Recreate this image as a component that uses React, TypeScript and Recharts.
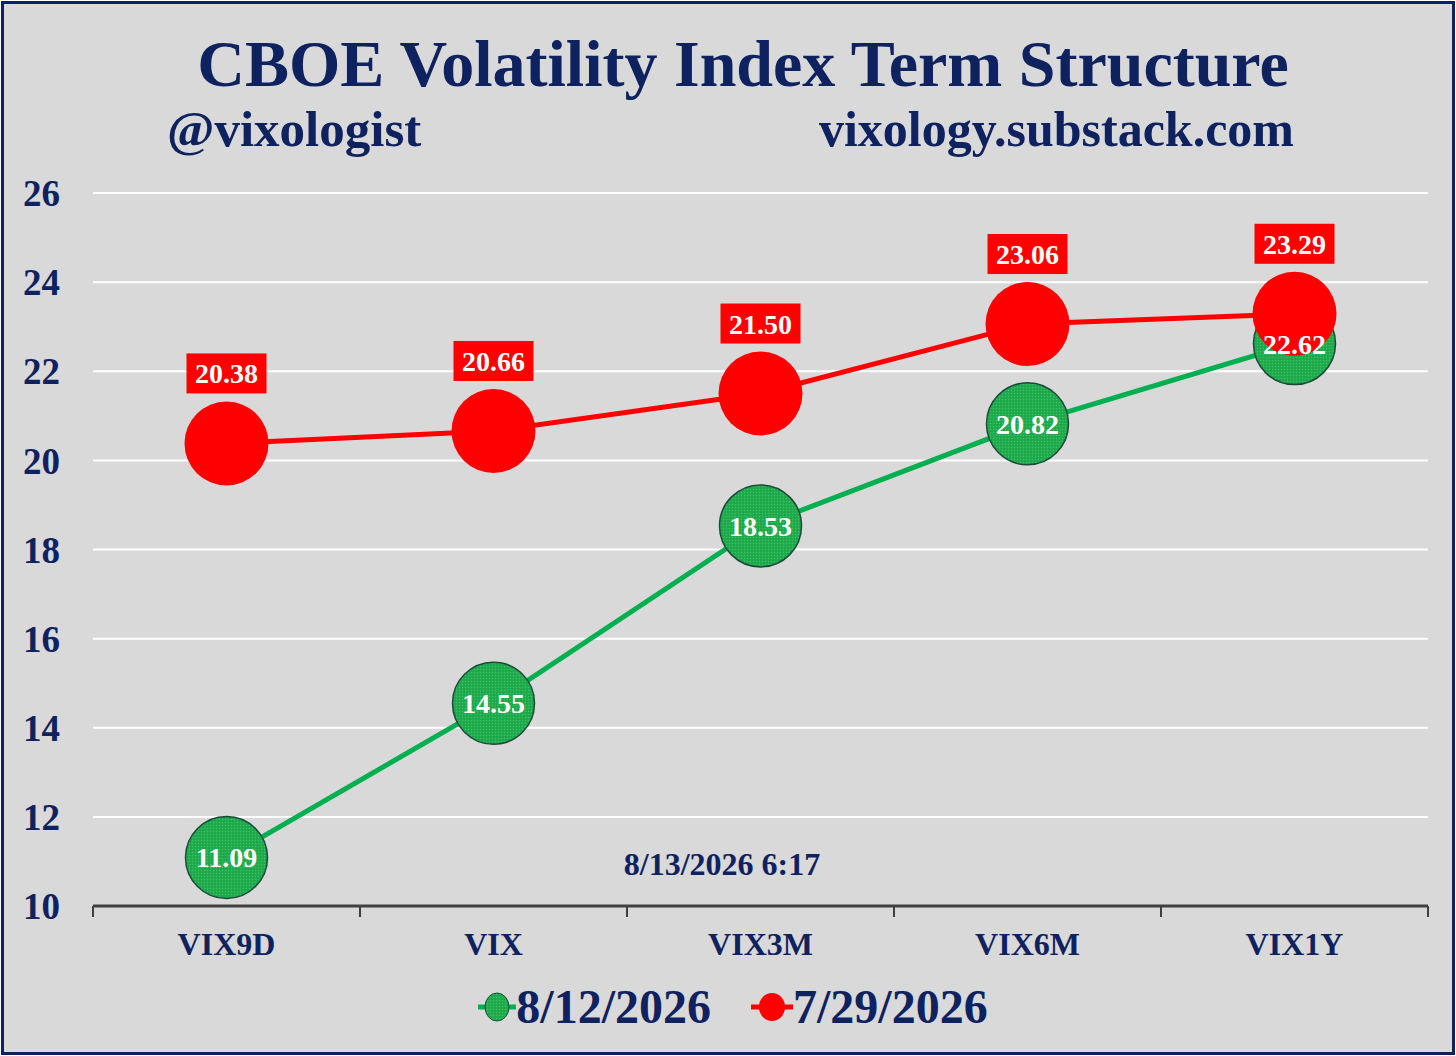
import { LineChart, Line, XAxis, YAxis, CartesianGrid, LabelList } from "recharts";

const categories = ["VIX9D", "VIX", "VIX3M", "VIX6M", "VIX1Y"];
const latest = [11.09, 14.55, 18.53, 20.82, 22.62];
const prior = [20.38, 20.66, 21.5, 23.06, 23.29];
const yTicks = [10, 12, 14, 16, 18, 20, 22, 24, 26];
const latestLabel = "8/12/2026";
const priorLabel = "7/29/2026";
const stamp = "8/13/2026 6:17";

const NAVY = "#0f2260";
const FONT = "'Liberation Serif', 'Times New Roman', serif";
const GREEN = "#00b050";
const GREEN_DOT = "url(#greenDots)";
const RED = "#ff0000";
const HALF_BAND = 133.5;

const data = categories.map((name, i) => ({
  name,
  latest: latest[i],
  prior: prior[i],
  latestText: latest[i],
}));

const RedTag = (props: any) => {
  const { x, y, value } = props;
  return (
    <g>
      <rect x={x - 40} y={y - 90} width={80} height={40} fill={RED} />
      <text
        x={x}
        y={y - 60}
        textAnchor="middle"
        fill="#fff"
        fontSize={28}
        fontWeight="bold"
        fontFamily={FONT}
      >
        {Number(value).toFixed(2)}
      </text>
    </g>
  );
};

const GreenTag = (props: any) => {
  const { x, y, value } = props;
  return (
    <text
      x={x}
      y={y + 10}
      textAnchor="middle"
      fill="#fff"
      fontSize={28}
      fontWeight="bold"
      fontFamily={FONT}
    >
      {Number(value).toFixed(2)}
    </text>
  );
};

// category label plus the tick marks that sit on the band edges
const CatTick = (props: any) => {
  const { x, y, payload, index } = props;
  const last = index === categories.length - 1;
  return (
    <g>
      <line x1={x - HALF_BAND} y1={y} x2={x - HALF_BAND} y2={y + 11} stroke="#404040" strokeWidth={2} />
      {last && (
        <line x1={x + HALF_BAND} y1={y} x2={x + HALF_BAND} y2={y + 11} stroke="#404040" strokeWidth={2} />
      )}
      <text
        x={x}
        y={y + 49}
        textAnchor="middle"
        fill={NAVY}
        fontSize={32}
        fontWeight="bold"
        fontFamily={FONT}
      >
        {payload.value}
      </text>
    </g>
  );
};

const LegendBox = () => (
  <div
    style={{
      display: "flex",
      justifyContent: "center",
      alignItems: "center",
      fontFamily: FONT,
      fontWeight: "bold",
      fontSize: 48,
      color: NAVY,
      gap: 40,
      paddingLeft: 10,
    }}
  >
    <span style={{ display: "flex", alignItems: "center" }}>
      <svg width={38} height={32}>
        <line x1={0} y1={16} x2={38} y2={16} stroke={GREEN} strokeWidth={5} />
        <ellipse cx={19} cy={16} rx={12} ry={14} fill={GREEN_DOT} stroke="#1b4a3a" strokeWidth={1} />
      </svg>
      {latestLabel}
    </span>
    <span style={{ display: "flex", alignItems: "center" }}>
      <svg width={42} height={32}>
        <line x1={0} y1={16} x2={42} y2={16} stroke={RED} strokeWidth={5} />
        <ellipse cx={21} cy={16} rx={13} ry={14} fill={RED} />
      </svg>
      {priorLabel}
    </span>
  </div>
);

export default function App() {
  return (
    <div style={{ position: "relative", width: 1456, height: 1056, background: "#fff" }}>
      <style>{"body{margin:0}"}</style>
      <svg width={0} height={0} style={{ position: "absolute" }}>
        <defs>
          <pattern id="greenDots" width={3} height={3} patternUnits="userSpaceOnUse">
            <rect width={3} height={3} fill="#22ad4e" />
            <rect width={1} height={1} fill="#3cc268" />
            <rect x={1.5} y={1.5} width={1} height={1} fill="#159640" />
          </pattern>
        </defs>
      </svg>
      <div
        style={{
          position: "absolute",
          left: 1,
          top: 1,
          width: 1454,
          height: 1054,
          boxSizing: "border-box",
          border: `3px solid ${NAVY}`,
          background: "#d9d9d9",
        }}
      />
      <div style={{ position: "absolute", left: 0, top: 0 }}>
        <LineChart
          width={1456}
          height={1056}
          data={data}
          margin={{ top: 193, right: 28, bottom: 90, left: 0 }}
        >
          <CartesianGrid horizontal vertical={false} stroke="#ffffff" strokeWidth={2} />
          <XAxis
            dataKey="name"
            padding={{ left: HALF_BAND, right: HALF_BAND }}
            axisLine={{ stroke: "#404040", strokeWidth: 3 }}
            tickLine={false}
            tickSize={0}
            tickMargin={0}
            height={60}
            interval={0}
            tick={<CatTick />}
          />
          <YAxis
            width={93}
            domain={[10, 26]}
            ticks={yTicks}
            interval={0}
            axisLine={false}
            tickLine={false}
            tickSize={0}
            tickMargin={33}
            tick={{ fill: NAVY, fontSize: 37, fontWeight: "bold", fontFamily: FONT }}
          />
          <Line
            dataKey="latest"
            name={latestLabel}
            stroke={GREEN}
            strokeWidth={5}
            dot={{ r: 41, fill: GREEN_DOT, stroke: "#1b4a3a", strokeWidth: 1.5 }}
            activeDot={false}
            isAnimationActive={false}
          />
          <Line
            dataKey="prior"
            name={priorLabel}
            stroke={RED}
            strokeWidth={5}
            dot={{ r: 42, fill: RED, stroke: "none" }}
            activeDot={false}
            isAnimationActive={false}
          >
            <LabelList dataKey="prior" content={RedTag} />
          </Line>
          <Line
            dataKey="latestText"
            stroke="none"
            dot={false}
            activeDot={false}
            legendType="none"
            isAnimationActive={false}
          >
            <LabelList dataKey="latestText" content={GreenTag} />
          </Line>
        </LineChart>
      </div>
      <div style={{ position: "absolute", left: 0, top: 979, width: 1456 }}>
        <LegendBox />
      </div>
      <svg
        width={1456}
        height={1056}
        style={{ position: "absolute", left: 0, top: 0, pointerEvents: "none" }}
      >
        <text x={743} y={86} textAnchor="middle" fill={NAVY} fontSize={66} fontWeight="bold" fontFamily={FONT}>
          CBOE Volatility Index Term Structure
        </text>
        <text x={167} y={146} fill={NAVY} fontSize={51} fontWeight="bold" fontFamily={FONT}>
          @vixologist
        </text>
        <text x={1294} y={146} textAnchor="end" fill={NAVY} fontSize={50} fontWeight="bold" fontFamily={FONT}>
          vixology.substack.com
        </text>
        <text x={722} y={875} textAnchor="middle" fill={NAVY} fontSize={32} fontWeight="bold" fontFamily={FONT}>
          {stamp}
        </text>
      </svg>
    </div>
  );
}
